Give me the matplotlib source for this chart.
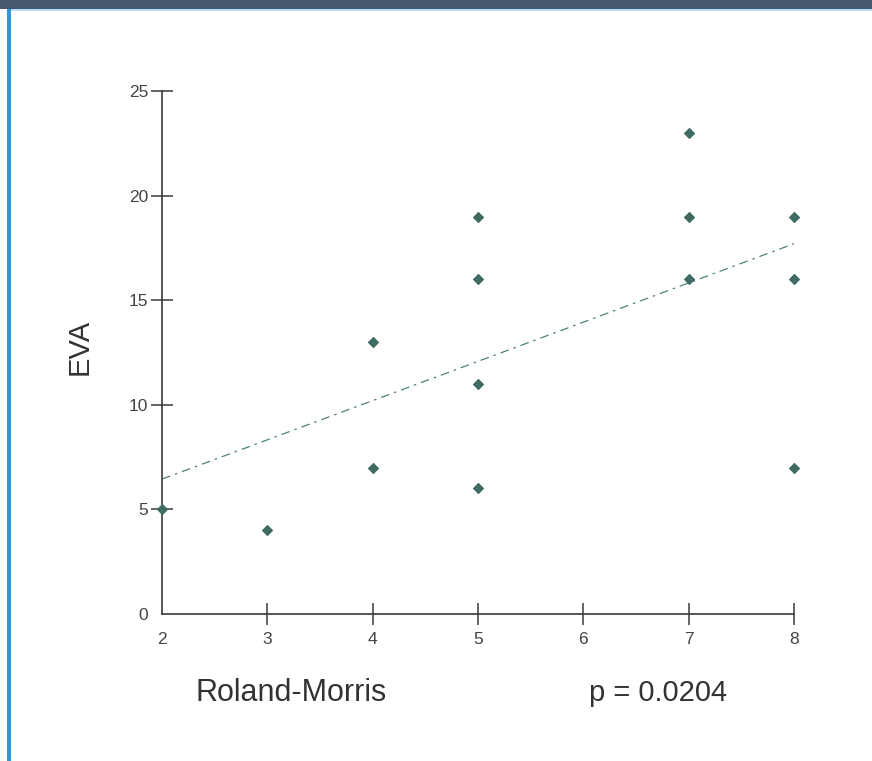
import matplotlib
matplotlib.use('Agg')
import matplotlib.pyplot as plt
from matplotlib.patches import Rectangle

# data
roland_morris = [2, 3, 4, 4, 5, 5, 5, 5, 7, 7, 7, 8, 8, 8]
eva = [5, 4, 13, 7, 19, 16, 11, 6, 23, 19, 16, 19, 16, 7]
fit_x = [2, 8]
fit_y = [6.45, 17.7]
x_ticks = [2, 3, 4, 5, 6, 7, 8]
y_ticks = [0, 5, 10, 15, 20, 25]
p_text = "p = 0.0204"

plt.rcParams['font.family'] = ['Liberation Sans', 'DejaVu Sans']

W, H = 872, 761
fig = plt.figure(figsize=(W/100., H/100.), dpi=100)
fig.patch.set_facecolor('white')

# page decoration: dark header strip, thin light line, blue left bar
fig.patches.append(Rectangle((0, 1-9./H), 1, 9./H, transform=fig.transFigure,
                             facecolor='#45596e', edgecolor='none'))
fig.patches.append(Rectangle((11./W, 1-11./H), 1, 2./H, transform=fig.transFigure,
                             facecolor='#b9dcf2', edgecolor='none'))
fig.patches.append(Rectangle((7./W, 0), 4./W, 1-9./H, transform=fig.transFigure,
                             facecolor='#3197dd', edgecolor='none'))

ax = fig.add_axes([162./W, 1-614./H, (794-162.)/W, (614-91.)/H])
ax.set_xlim(2, 8)
ax.set_ylim(0, 25)
for s in ['top', 'right']:
    ax.spines[s].set_visible(False)
for s in ['left', 'bottom']:
    ax.spines[s].set_color('#3a3a3a')
    ax.spines[s].set_linewidth(1.2)

ax.plot(fit_x, fit_y, linestyle=(0, (7, 4, 2, 4)), color='#4f807c',
        linewidth=0.9, zorder=2)
ax.scatter(roland_morris, eva, marker='D', s=26, color='#3f6b64',
           edgecolor='#3f6b64', linewidth=0.8, zorder=3, clip_on=False)

ax.set_xticks(x_ticks)
ax.set_yticks(y_ticks)
ax.tick_params(direction='inout', length=16, width=1.1, color='#3a3a3a',
               labelsize=12.5, labelcolor='#444444')
ax.tick_params(axis='x', pad=5)
ax.tick_params(axis='y', pad=2)
# no tick marks at the origin
ax.xaxis.get_major_ticks()[0].tick1line.set_visible(False)
ax.yaxis.get_major_ticks()[0].tick1line.set_visible(False)

fig.text(80./W, 1-347./H, 'EVA', rotation=90, fontsize=21, color='#333333',
         ha='center', va='center')
fig.text(291./W, 1-701./H, 'Roland-Morris', fontsize=22, color='#333333',
         ha='center', va='baseline')
fig.text(658./W, 1-701./H, p_text, fontsize=21, color='#333333',
         ha='center', va='baseline')

fig.savefig('out.png', dpi=100)
